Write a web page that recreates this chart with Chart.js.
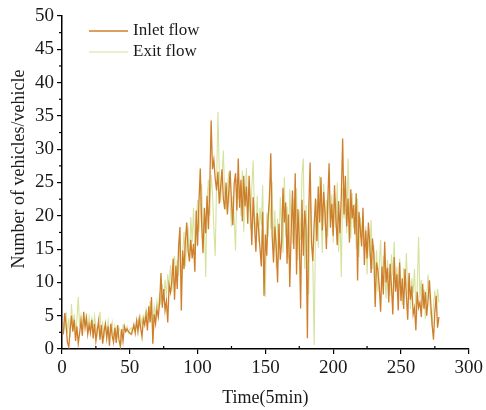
<!DOCTYPE html>
<html>
<head>
<meta charset="utf-8">
<script src="https://cdn.jsdelivr.net/npm/chart.js@4/dist/chart.umd.min.js"></script>
<style>
html,body{margin:0;padding:0;background:#fff;}
#wrap{width:486px;height:410px;position:relative;}
</style>
</head>
<body>
<div id="wrap"><canvas id="c" width="486" height="410"></canvas></div>
<script>
const seriesNames = ["Inlet flow", "Exit flow"];
const xAxisTitle = "Time(5min)";
const yAxisTitle = "Number of vehicles/vehicle";
const xTickLabels = [0, 50, 100, 150, 200, 250, 300];
const yTickLabels = [0, 5, 10, 15, 20, 25, 30, 35, 40, 45, 50];

const inletFlow = [
  2.2, 5.4, 3.6, 1.0, 0.3, 2.8, 5.0, 2.6, 4.4, 1.2,
  3.4, 0.8, 2.4, 4.2, 2.0, 5.6, 3.2, 4.6, 2.2, 3.6,
  2.4, 4.4, 1.6, 3.8, 1.2, 2.8, 4.2, 1.4, 3.6, 0.8,
  2.6, 3.8, 1.6, 3.4, 0.5, 3.8, 2.0, 1.0, 3.2, 0.9,
  3.6, 1.4, 0.4, 3.0, 1.2, 3.4, 2.6, 3.0, 2.6, 2.4,
  2.2, 2.8, 3.6, 2.4, 4.2, 2.6, 4.6, 3.2, 1.8, 4.4,
  3.6, 5.2, 2.8, 6.4, 4.0, 7.8, 0.8, 5.2, 3.8, 6.0,
  4.8, 7.0, 11.4, 6.2, 9.0, 5.8, 7.2, 4.0, 9.6, 8.5,
  10.2, 13.6, 7.4, 12.5, 9.0, 15.4, 18.3, 5.8, 14.8, 12.0,
  16.2, 19.0, 14.8, 13.2, 16.4, 13.6, 15.8, 11.6, 20.8, 15.5,
  22.0, 27.1, 18.6, 14.4, 21.2, 17.4, 23.0, 18.0, 24.4, 34.3,
  27.0, 28.4, 25.6, 23.8, 26.6, 21.8, 24.4, 27.0, 22.6, 21.0,
  25.0, 20.2, 23.6, 26.8, 22.0, 18.6, 24.8, 26.4, 20.8, 28.6,
  21.2, 25.4, 19.2, 26.0, 21.4, 24.4, 18.8, 26.0, 21.2, 15.6,
  22.8, 18.6, 14.6, 20.4, 18.0, 15.2, 12.4, 20.6, 8.0, 17.2,
  14.0, 19.8, 22.6, 29.4, 17.0, 13.0, 18.4, 15.4, 10.0, 18.8,
  13.4, 16.2, 24.2, 19.0, 22.0, 12.8, 20.2, 9.3, 17.6, 23.8,
  15.0, 26.4, 11.2, 21.0, 16.6, 6.1, 22.4, 14.0, 20.8, 18.2,
  1.6, 21.0, 28.0, 16.0, 13.2, 18.8, 22.6, 16.2, 24.4, 19.0,
  25.8, 17.8, 23.6, 20.4, 15.0, 22.2, 27.9, 18.2, 21.8, 17.0,
  24.6, 19.8, 15.6, 22.2, 17.4, 23.0, 31.6, 20.2, 26.0, 18.4,
  22.6, 16.0, 24.0, 19.6, 21.6, 17.2, 23.4, 10.3, 20.6, 18.0,
  15.4, 21.2, 12.6, 17.8, 13.6, 19.0, 15.8, 11.4, 16.6, 14.2,
  6.3, 13.0, 11.8, 9.4, 5.6, 12.4, 8.2, 16.1, 10.0, 12.2,
  7.0, 12.8, 9.4, 5.2, 13.8, 8.6, 11.2, 5.8, 13.0, 7.2,
  10.6, 6.0, 12.0, 8.0, 4.4, 11.4, 7.4, 9.4, 5.2, 6.2,
  2.8, 8.6, 6.2, 7.0, 4.8, 9.8, 6.0, 8.6, 5.0, 7.4,
  10.3, 6.8, 3.6, 1.4, 5.6, 8.0, 3.2, 4.8
];

const exitFlow = [
  4.0, 3.2, 5.6, 2.4, 4.6, 1.8, 6.8, 3.0, 5.2, 2.6,
  4.4, 7.8, 3.4, 5.0, 2.8, 4.6, 3.8, 5.4, 2.6, 4.8,
  3.2, 4.6, 2.8, 5.0, 3.4, 2.2, 4.0, 5.6, 2.4, 3.8,
  1.6, 3.6, 2.6, 4.2, 1.8, 3.0, 4.0, 1.2, 3.4, 2.4,
  1.8, 3.2, 2.6, 1.0, 3.6, 3.5, 2.8, 3.4, 2.4, 3.0,
  3.2, 2.4, 3.8, 3.0, 3.6, 4.4, 3.4, 4.8, 3.6, 5.0,
  4.4, 6.0, 5.2, 4.2, 7.2, 5.6, 3.0, 6.4, 5.0, 7.2,
  6.0, 8.4, 6.6, 9.8, 7.2, 10.4, 8.0, 11.2, 9.0, 12.6,
  8.6, 11.8, 14.0, 10.2, 13.4, 11.0, 16.8, 9.6, 14.2, 17.6,
  12.4, 15.8, 18.4, 13.0, 19.8, 16.0, 21.2, 14.6, 18.2, 22.4,
  17.6, 20.6, 24.8, 16.4, 19.0, 10.8, 22.6, 25.4, 20.0, 26.2,
  23.4, 18.0, 14.0, 24.6, 35.6, 26.8, 22.0, 25.6, 29.8, 23.2,
  20.8, 24.2, 26.6, 21.6, 18.4, 23.0, 19.4, 14.8, 25.6, 22.4,
  24.6, 20.0, 26.8, 17.6, 22.6, 27.2, 20.6, 23.4, 18.0, 24.4,
  28.3, 20.2, 17.4, 23.0, 16.0, 21.2, 18.6, 24.6, 13.4, 7.8,
  20.4, 16.8, 23.8, 18.0, 25.2, 14.6, 20.8, 12.2, 19.6, 15.0,
  22.8, 18.4, 14.4, 25.8, 16.8, 21.4, 13.6, 24.0, 19.2, 15.8,
  22.6, 18.0, 24.2, 13.4, 20.8, 16.4, 26.2, 28.6, 12.0, 21.6,
  17.4, 8.2, 23.6, 19.2, 12.6, 0.6, 18.8, 22.4, 15.2, 26.0,
  20.2, 14.4, 24.8, 18.6, 22.4, 16.8, 25.6, 19.4, 23.2, 16.0,
  21.8, 18.2, 25.0, 14.6, 20.6, 10.8, 24.2, 19.6, 22.0, 17.4,
  28.6, 20.8, 16.6, 23.4, 18.2, 21.8, 15.0, 22.6, 13.8, 19.8,
  16.4, 20.0, 14.6, 18.4, 11.2, 17.0, 13.8, 19.4, 12.0, 15.6,
  10.4, 14.8, 8.6, 12.6, 16.4, 9.0, 14.0, 11.6, 7.6, 13.4,
  10.6, 8.0, 14.2, 11.0, 16.1, 9.2, 12.4, 7.4, 13.6, 10.0,
  6.6, 12.2, 9.4, 14.4, 8.2, 11.0, 6.0, 10.6, 8.4, 12.0,
  5.4, 9.2, 16.8, 7.6, 10.4, 6.4, 9.0, 4.6, 7.8, 11.2,
  8.0, 5.2, 3.4, 6.6, 8.8, 5.6, 9.0, 7.0
];

const inletColor = '#cf7f2c';
const exitColor = '#d6e29c';
const fontFamily = '"Liberation Serif", "Times New Roman", serif';

const toPoints = arr => arr.map((v, i) => ({ x: i + 1, y: v }));

const legendPlugin = {
  id: 'innerLegend',
  afterDraw(chart) {
    const ctx = chart.ctx;
    const items = [
      { text: seriesNames[0], color: inletColor, w: 1.6 },
      { text: seriesNames[1], color: exitColor, w: 1.2 }
    ];
    ctx.save();
    ctx.font = '17px ' + fontFamily;
    ctx.textBaseline = 'middle';
    ctx.fillStyle = '#1a1a1a';
    items.forEach((it, k) => {
      const y = 31 + k * 21;
      ctx.strokeStyle = it.color;
      ctx.lineWidth = it.w;
      ctx.beginPath();
      ctx.moveTo(89, y);
      ctx.lineTo(128, y);
      ctx.stroke();
      ctx.fillText(it.text, 133, y);
    });
    // rotated y-axis title
    ctx.save();
    ctx.translate(19, 169);
    ctx.rotate(-Math.PI / 2);
    ctx.textAlign = 'center';
    ctx.font = '18px ' + fontFamily;
    ctx.fillText(yAxisTitle, 0, 0);
    ctx.restore();
    ctx.restore();
  }
};

const minorTickPlugin = {
  id: 'minorTicks',
  afterDraw(chart) {
    const ctx = chart.ctx;
    const xs = chart.scales.x, ys = chart.scales.y;
    ctx.save();
    ctx.strokeStyle = '#000';
    ctx.lineWidth = 1.2;
    for (let v = 25; v < 300; v += 50) {
      const px = xs.getPixelForValue(v);
      ctx.beginPath();
      ctx.moveTo(px, ys.bottom);
      ctx.lineTo(px, ys.bottom - 3);
      ctx.stroke();
    }
    for (let v = 2.5; v < 50; v += 5) {
      const py = ys.getPixelForValue(v);
      ctx.beginPath();
      ctx.moveTo(xs.left, py);
      ctx.lineTo(xs.left - 3, py);
      ctx.stroke();
    }
    ctx.restore();
  }
};

new Chart(document.getElementById('c'), {
  type: 'line',
  data: {
    datasets: [
      {
        label: seriesNames[0],
        data: toPoints(inletFlow),
        borderColor: inletColor,
        borderWidth: 1.3,
        pointRadius: 0,
        tension: 0,
        fill: false
      },
      {
        label: seriesNames[1],
        data: toPoints(exitFlow),
        borderColor: exitColor,
        borderWidth: 1.1,
        pointRadius: 0,
        tension: 0,
        fill: false
      }
    ]
  },
  options: {
    responsive: false,
    animation: false,
    devicePixelRatio: 1,
    layout: { padding: { top: 16, right: 10, left: 0, bottom: 0 } },
    plugins: {
      legend: { display: false },
      tooltip: { enabled: false }
    },
    scales: {
      x: {
        type: 'linear',
        min: 0,
        max: 300,
        afterBuildTicks(scale) {
          scale.ticks = xTickLabels.map(v => ({ value: v }));
        },
        afterFit(scale) { scale.height = 61; },
        ticks: {
          color: '#1a1a1a',
          font: { family: fontFamily, size: 19 },
          padding: 3,
          maxRotation: 0,
          autoSkip: false
        },
        grid: {
          display: true,
          drawOnChartArea: false,
          drawTicks: true,
          tickLength: 5,
          color: '#000',
          lineWidth: 1.2
        },
        border: { display: true, color: '#000', width: 1.5 },
        title: {
          display: true,
          text: xAxisTitle,
          color: '#1a1a1a',
          font: { family: fontFamily, size: 18 },
          padding: { top: 0, bottom: 1 }
        }
      },
      y: {
        type: 'linear',
        min: 0,
        max: 50,
        afterBuildTicks(scale) {
          scale.ticks = yTickLabels.map(v => ({ value: v }));
        },
        afterFit(scale) { scale.width = 62; },
        ticks: {
          color: '#1a1a1a',
          font: { family: fontFamily, size: 19 },
          padding: 3,
          autoSkip: false
        },
        grid: {
          display: true,
          drawOnChartArea: false,
          drawTicks: true,
          tickLength: 5,
          color: '#000',
          lineWidth: 1.2
        },
        border: { display: true, color: '#000', width: 1.5 },
        title: { display: false }
      }
    }
  },
  plugins: [legendPlugin, minorTickPlugin]
});
</script>
</body>
</html>
